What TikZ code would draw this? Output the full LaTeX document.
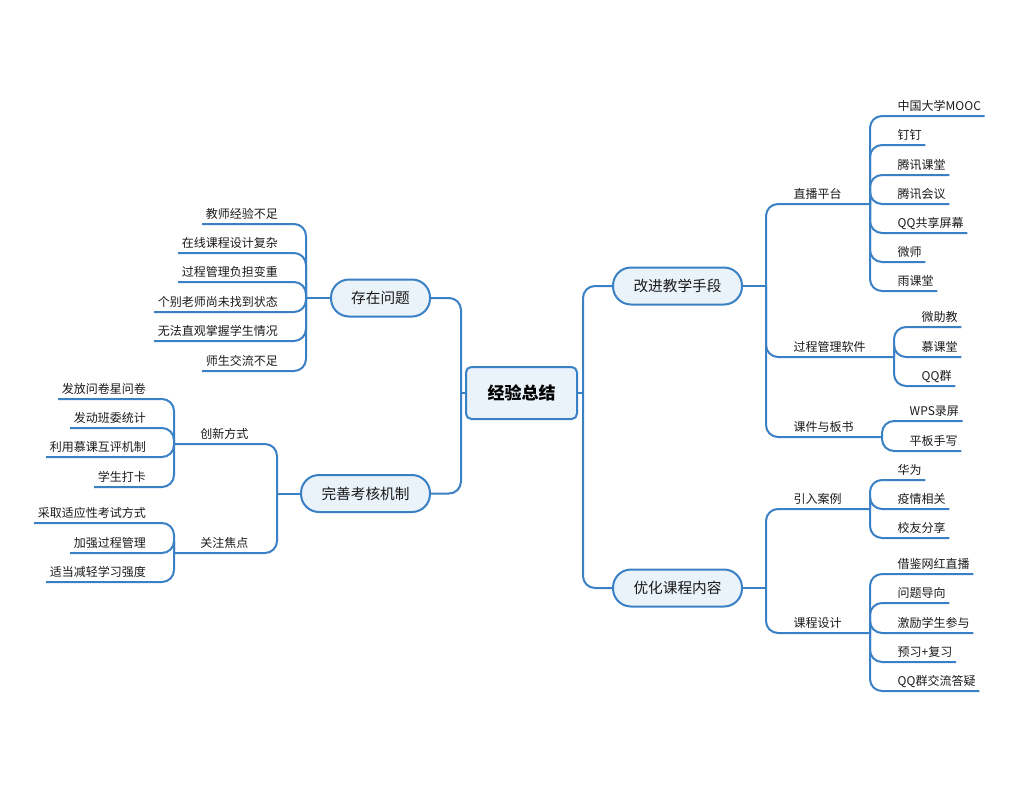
\documentclass[tikz,border=0pt]{standalone}
\usepackage{fontspec}
\setmainfont{Noto Sans CJK SC}
\usepackage{tikz}
\definecolor{lineblue}{RGB}{58,128,196}
\definecolor{boxfill}{RGB}{234,242,250}
\definecolor{inkgray}{RGB}{26,26,26}
\tikzset{
  conn/.style={draw=lineblue,line width=1.5pt},
  branch/.style={conn,rounded corners=9pt},
  rootbox/.style={draw=lineblue,line width=1.5pt,fill=boxfill,text=black,
    rounded corners=4pt,minimum width=83.25pt,minimum height=39pt,
    font=\fontsize{12.75}{15}\selectfont\bfseries},
  mainbox/.style={draw=lineblue,line width=1.5pt,fill=boxfill,text=inkgray,
    rounded corners=13.5pt,minimum width=96.75pt,minimum height=27.75pt,
    font=\fontsize{11}{13}\selectfont},
  leaf/.style={inner xsep=2.6pt,inner ysep=0pt,text height=9pt,text depth=4.2pt,
    text=inkgray,font=\fontsize{9}{11}\selectfont},
  lleaf/.style={leaf,anchor=south east},
  rleaf/.style={leaf,anchor=south west},
}
\begin{document}
\begin{tikzpicture}[x=0.75pt,y=-0.75pt]
            \useasboundingbox (0,0) rectangle (1024,786);
            \node[rootbox] (root) at (521.5,393){经验总结};

            \node[mainbox,minimum width=74.25pt] (wenti) at (380.5,298){存在问题};
            \node[mainbox] (kaohe) at (365.5,493.5){完善考核机制};
            \node[mainbox] (shouduan) at (677.5,286){改进教学手段};
            \node[mainbox] (neirong) at (677.5,588){优化课程内容};

            \coordinate (lt) at (461,393);
            \coordinate (rt) at (583,393);
            \draw[conn] (root.west) -- (lt);
            \draw[conn] (root.east) -- (rt);
            \draw[branch] (lt) |- (wenti.east);
            \draw[branch] (lt) |- (kaohe.east);
            \draw[branch] (rt) |- (shouduan.west);
            \draw[branch] (rt) |- (neirong.west);

            % existing problems
            \coordinate (wt) at (306,298);
            \node[lleaf] (w1) at (281.5,224){教师经验不足};
            \node[lleaf] (w2) at (281.5,253){在线课程设计复杂};
            \node[lleaf] (w3) at (281.5,282){过程管理负担变重};
            \node[lleaf] (w4) at (281.5,312){个别老师尚未找到状态};
            \node[lleaf] (w5) at (281.5,341){无法直观掌握学生情况};
            \node[lleaf] (w6) at (281.5,371){师生交流不足};
            \draw[conn] (wenti.west) -- (wt);
            \foreach \c in {w1,w2,w3,w4,w5,w6}
              \draw[branch] (wt) |- (\c.south west);

            % assessment
            \coordinate (kt) at (277,493.5);
            \draw[conn] (kaohe.west) -- (kt);
            \node[lleaf] (chuangxin) at (252,444){创新方式};
            \node[lleaf] (guanzhu) at (252,553){关注焦点};
            \coordinate (cxt) at (174,444);
            \coordinate (gzt) at (174,553);
            \draw[branch] (kt) |- (cxt);
            \draw[branch] (kt) |- (gzt);

            \node[lleaf] (c1) at (149.5,399){发放问卷星问卷};
            \node[lleaf] (c2) at (149.5,428){发动班委统计};
            \node[lleaf] (c3) at (149.5,457){利用慕课互评机制};
            \node[lleaf] (c4) at (149.5,487){学生打卡};
            \foreach \c in {c1,c2,c3,c4}
              \draw[branch] (cxt) |- (\c.south west);

            \node[lleaf] (g1) at (149.5,523){采取适应性考试方式};
            \node[lleaf] (g2) at (149.5,553){加强过程管理};
            \node[lleaf] (g3) at (149.5,582){适当减轻学习强度};
            \foreach \c in {g1,g2,g3}
              \draw[branch] (gzt) |- (\c.south west);

            % teaching means
            \coordinate (sdt) at (766,286);
            \draw[conn] (shouduan.east) -- (sdt);
            \node[rleaf] (zhibo) at (790,204){直播平台};
            \node[rleaf] (guocheng) at (790,357){过程管理软件};
            \node[rleaf] (kejian) at (790,437){课件与板书};
            \coordinate (zbt) at (870,204);
            \coordinate (gct) at (894,357);
            \coordinate (kjt) at (882,437);
            \draw[branch] (sdt) |- (zbt);
            \draw[branch] (sdt) |- (gct);
            \draw[branch] (sdt) |- (kjt);

            \node[rleaf] (z1) at (894,116){中国大学MOOC};
            \node[rleaf] (z2) at (894,145){钉钉};
            \node[rleaf] (z3) at (894,175){腾讯课堂};
            \node[rleaf] (z4) at (894,204){腾讯会议};
            \node[rleaf] (z5) at (894,233){QQ共享屏幕};
            \node[rleaf] (z6) at (894,262){微师};
            \node[rleaf] (z7) at (894,291){雨课堂};
            \foreach \c in {z1,z2,z3,z4,z5,z6,z7}
              \draw[branch] (zbt) |- (\c.south east);

            \node[rleaf] (p1) at (918,327){微助教};
            \node[rleaf] (p2) at (918,357){慕课堂};
            \node[rleaf] (p3) at (918,386){QQ群};
            \foreach \c in {p1,p2,p3}
              \draw[branch] (gct) |- (\c.south east);

            \node[rleaf] (k1) at (906,421){WPS录屏};
            \node[rleaf] (k2) at (906,451){平板手写};
            \foreach \c in {k1,k2}
              \draw[branch] (kjt) |- (\c.south east);

            % course content
            \coordinate (nrt) at (766,588);
            \draw[conn] (neirong.east) -- (nrt);
            \node[rleaf] (yinru) at (790,509){引入案例};
            \node[rleaf] (sheji) at (790,633){课程设计};
            \coordinate (yrt) at (870,509);
            \coordinate (sjt) at (870,633);
            \draw[branch] (nrt) |- (yrt);
            \draw[branch] (nrt) |- (sjt);

            \node[rleaf] (y1) at (894,480){华为};
            \node[rleaf] (y2) at (894,509){疫情相关};
            \node[rleaf] (y3) at (894,538){校友分享};
            \foreach \c in {y1,y2,y3}
              \draw[branch] (yrt) |- (\c.south east);

            \node[rleaf] (s1) at (894,574){借鉴网红直播};
            \node[rleaf] (s2) at (894,603){问题导向};
            \node[rleaf] (s3) at (894,633){激励学生参与};
            \node[rleaf] (s4) at (894,662){预习+复习};
            \node[rleaf] (s5) at (894,691){QQ群交流答疑};
            \foreach \c in {s1,s2,s3,s4,s5}
              \draw[branch] (sjt) |- (\c.south east);
\end{tikzpicture}
\end{document}
